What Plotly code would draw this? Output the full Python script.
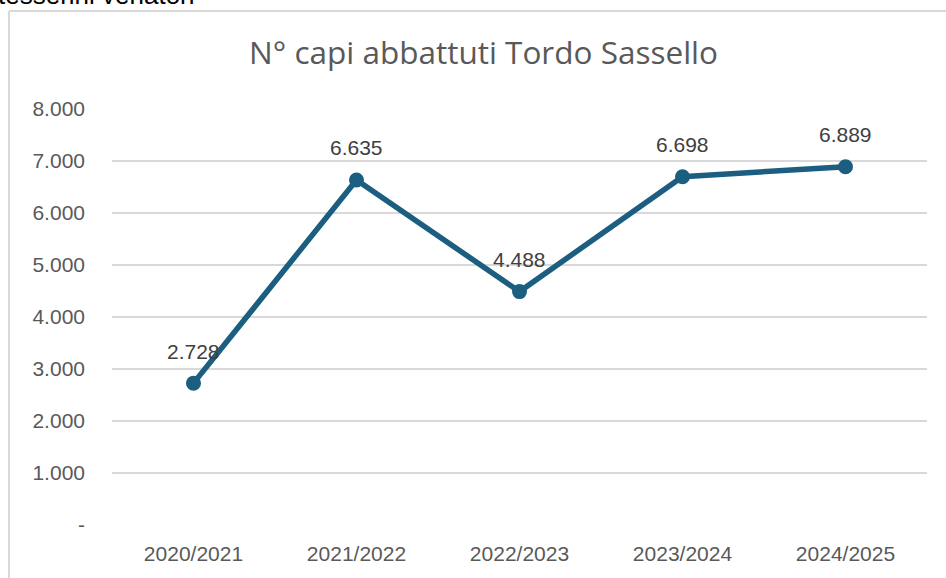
import plotly.graph_objects as go

categories = ["2020/2021", "2021/2022", "2022/2023", "2023/2024", "2024/2025"]
values = [2728, 6635, 4488, 6698, 6889]
value_labels = ["2.728", "6.635", "4.488", "6.698", "6.889"]
y_tickvals = [0, 1000, 2000, 3000, 4000, 5000, 6000, 7000, 8000]
y_ticktext = ["-", "1.000", "2.000", "3.000", "4.000", "5.000", "6.000", "7.000", "8.000"]

W, H = 946, 578
# plot area in window pixels: left 112, right 927, top 109, bottom 525
L, T = 112, 109
R = W - 927
B = H - 525
pw, ph = W - L - R, H - T - B

def px_x(p):  # window pixel -> paper
    return (p - L) / pw

def px_y(p):
    return (H - B - p) / ph

fig = go.Figure()
fig.add_trace(go.Scatter(
    x=categories, y=values, mode="lines+markers",
    line=dict(color="#1B5E80", width=5.5),
    marker=dict(size=15, color="#1B5E80"),
    hoverinfo="skip", showlegend=False,
))

annotations = []
for c, v, t in zip(categories, values, value_labels):
    annotations.append(dict(x=c, y=v, xref="x", yref="y", text=t, showarrow=False,
                            yshift=32, font=dict(family="Liberation Sans, Arial", size=21, color="#404040")))
annotations.append(dict(x=px_x(483), y=px_y(51), xref="paper", yref="paper",
                        text="N° capi abbattuti Tordo Sassello", showarrow=False,
                        xanchor="center", yanchor="middle",
                        font=dict(family="Open Sans, Inter", size=31.5, color="#595959")))
annotations.append(dict(x=px_x(-4), y=px_y(-5), xref="paper", yref="paper",
                        text="tesserini venatori", showarrow=False,
                        xanchor="left", yanchor="middle",
                        font=dict(family="Liberation Sans, Arial", size=26, color="#000000")))

fig.update_layout(
    width=W, height=H,
    margin=dict(l=L, r=R, t=T, b=B, pad=0),
    paper_bgcolor="white", plot_bgcolor="white",
    annotations=annotations,
    shapes=[
        dict(type="line", xref="paper", yref="paper", x0=px_x(9), x1=px_x(960), y0=px_y(11), y1=px_y(11),
             line=dict(color="#D9D9D9", width=2)),
        dict(type="line", xref="paper", yref="paper", x0=px_x(9), x1=px_x(9), y0=px_y(11), y1=px_y(600),
             line=dict(color="#D9D9D9", width=2)),
    ],
    xaxis=dict(
        type="category", range=[-0.5, 4.5], showgrid=False, zeroline=False, showline=False,
        ticks="", ticklabelstandoff=14,
        tickfont=dict(family="Liberation Sans, Arial", size=21, color="#595959"),
    ),
    yaxis=dict(
        range=[0, 8000], tickvals=y_tickvals, ticktext=y_ticktext,
        showgrid=True, gridcolor="#D9D9D9", gridwidth=1.5, zeroline=False, showline=False,
        ticks="", ticklabelstandoff=26,
        tickfont=dict(family="Liberation Sans, Arial", size=21, color="#595959"),
    ),
)

fig.write_html("out.html", config={"displayModeBar": False},
               post_script="document.body.style.margin='0';")
